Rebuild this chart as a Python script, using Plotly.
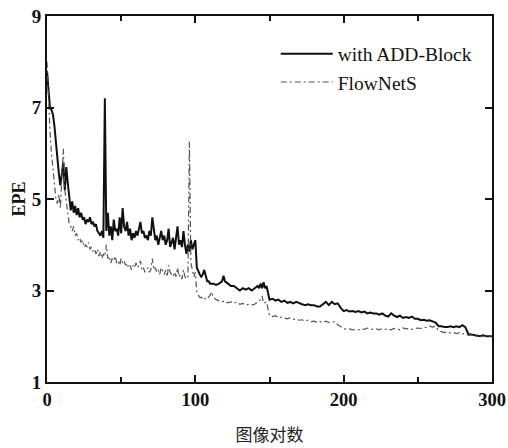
import plotly.graph_objects as go

# ---- data ----
add_x = list(range(0, 111)) + [112, 114, 116, 118, 119, 120, 122, 124, 126, 128, 130, 132, 134, 136, 138, 140,
        142, 143, 144, 145, 146, 147, 148, 149] + list(range(150, 301, 2))
add_y = [7.8, 7.3, 7.0, 6.95, 6.85, 6.6, 6.2, 5.9, 5.55, 5.3,
         5.5, 5.8, 5.2, 5.7, 5.35, 5.0, 4.75, 4.95, 4.7, 4.85,
         4.65, 4.8, 4.6, 4.7, 4.55, 4.6, 4.45, 4.55, 4.5, 4.6,
         4.45, 4.5, 4.4, 4.45, 4.3, 4.25, 4.2, 4.3, 4.15, 7.2,
         4.3, 4.7, 4.2, 4.4, 4.1, 4.55, 4.3, 4.35, 4.2, 4.6,
         4.25, 4.8, 4.4, 4.3, 4.5, 4.2, 4.35, 4.1, 4.25, 4.15,
         4.3, 4.2, 4.4, 4.5, 4.25, 4.3, 4.15, 4.2, 4.1, 4.3,
         4.2, 4.6, 4.35, 4.1, 4.2, 4.0, 4.15, 4.3, 4.1, 4.2,
         4.0, 4.1, 4.35, 3.95, 4.05, 4.15, 3.9, 4.1, 4.4, 4.0,
         4.1, 3.95, 4.3, 4.0, 3.8, 4.0, 3.85, 4.1, 3.9, 4.0,
         4.1, 3.5, 3.4, 3.35, 3.3, 3.35, 3.45, 3.3, 3.2, 3.2,
         3.15,
         3.15, 3.12, 3.15, 3.2, 3.32, 3.2, 3.15, 3.1, 3.1, 3.05, 3.0, 3.05, 3.02, 3.05, 3.0, 3.05,
         3.1, 3.05, 3.15, 3.05, 3.18, 3.05, 3.1, 2.95,
         2.8, 2.82, 2.78, 2.8, 2.75, 2.78, 2.73, 2.75, 2.72, 2.75,
         2.72, 2.7, 2.68, 2.7, 2.68, 2.68, 2.65, 2.65, 2.7, 2.75,
         2.68, 2.75, 2.7, 2.72, 2.62, 2.55, 2.57, 2.54, 2.55, 2.53,
         2.55, 2.52, 2.54, 2.5, 2.52, 2.5, 2.5, 2.47, 2.5, 2.45,
         2.43, 2.5, 2.45, 2.42, 2.45, 2.4, 2.42, 2.4, 2.43, 2.38,
         2.38, 2.35, 2.36, 2.34, 2.35, 2.33, 2.3, 2.22, 2.22, 2.2,
         2.2, 2.22, 2.2, 2.22, 2.2, 2.24, 2.2, 2.05, 2.04, 2.02,
         2.02, 2.0, 2.02, 2.0, 2.0, 2.0]

fn_x = list(range(0, 113)) + [114, 116, 118, 120, 122, 124, 126, 128, 130, 132, 134, 136, 138, 140, 142, 144,
        145, 146, 148, 149] + list(range(150, 301, 2))
fn_y = [8.0, 7.0, 6.5, 6.0, 5.6, 5.3, 5.0, 4.9, 5.1, 4.8,
        5.4, 6.1, 5.2, 5.0, 4.7, 4.45, 4.4, 4.3, 4.4, 4.2,
        4.25, 4.1, 4.15, 4.05, 4.1, 3.95, 4.0, 3.95, 4.05, 3.9,
        3.95, 3.85, 3.9, 3.8, 3.9, 3.75, 3.85, 3.7, 3.8, 3.75,
        4.0, 3.7, 3.75, 3.6, 3.7, 3.65, 3.75, 3.6, 3.65, 3.55,
        3.7, 3.6, 3.65, 3.55, 3.6, 3.5, 3.55, 3.45, 3.55, 3.5,
        3.6, 3.5, 3.55, 3.65, 3.45, 3.5, 3.4, 3.45, 3.5, 3.4,
        3.45, 3.7, 3.45, 3.5, 3.4, 3.45, 3.35, 3.5, 3.4, 3.35,
        3.45, 3.3, 3.55, 3.4, 3.35, 3.3, 3.4, 3.3, 3.5, 3.3,
        3.35, 3.25, 3.45, 3.3, 3.25, 3.3, 6.25, 3.6, 3.45, 3.3,
        3.4, 2.95, 2.9, 2.85, 2.85, 2.82, 2.85, 2.8, 2.82, 2.85,
        2.9, 2.97, 2.85,
        2.8, 2.78, 2.75, 2.78, 2.73, 2.75, 2.72, 2.75, 2.7, 2.72, 2.68, 2.7, 2.68, 2.7, 2.75, 2.8,
        2.88, 2.72, 2.75, 2.6,
        2.45, 2.43, 2.45, 2.4, 2.42, 2.4, 2.38, 2.4, 2.37, 2.38,
        2.35, 2.36, 2.33, 2.35, 2.32, 2.33, 2.3, 2.32, 2.3, 2.33,
        2.3, 2.3, 2.32, 2.25, 2.2, 2.17, 2.15, 2.16, 2.14, 2.15,
        2.14, 2.16, 2.15, 2.18, 2.16, 2.15, 2.16, 2.14, 2.17, 2.15,
        2.16, 2.14, 2.17, 2.15, 2.14, 2.18, 2.16, 2.17, 2.15, 2.17,
        2.18, 2.17, 2.2, 2.19, 2.22, 2.2, 2.22, 2.12, 2.1, 2.08,
        2.1, 2.07, 2.08, 2.06, 2.08, 2.05, 2.06, 2.02, 2.03, 2.0,
        2.01, 1.99, 2.0, 1.99, 2.0, 2.0]

series_names = ["with ADD-Block", "FlowNetS"]
x_ticks = [0, 100, 200, 300]
y_ticks = [1, 3, 5, 7, 9]
x_title = "图像对数"
y_title = "EPE"

serif = "Liberation Serif, Times New Roman, serif"

fig = go.Figure()
fig.add_trace(go.Scatter(x=add_x, y=add_y, mode="lines", name=series_names[0],
                         line=dict(color="#111111", width=2)))
fig.add_trace(go.Scatter(x=fn_x, y=fn_y, mode="lines", name=series_names[1],
                         line=dict(color="#555555", width=1.2, dash="6px,3px,2px,3px")))

fig.update_layout(
    width=508, height=448,
    margin=dict(l=47, r=15.5, t=16, b=66, autoexpand=False),
    plot_bgcolor="white", paper_bgcolor="white",
    showlegend=True,
    legend=dict(x=0.514, y=0.9495, xanchor="left", yanchor="top", itemwidth=52,
                font=dict(family=serif, size=19.5, color="#111111"),
                bgcolor="rgba(0,0,0,0)", tracegroupgap=0),
    xaxis=dict(range=[0, 300], tickvals=x_ticks, ticktext=[str(v) for v in x_ticks],
               automargin=False, ticklabeloverflow="allow",
               ticks="inside", ticklen=7, tickwidth=1.5, tickcolor="#111",
               minor=dict(tickvals=[50, 150, 250], ticks="inside", ticklen=5, tickwidth=1.5, tickcolor="#111"),
               showline=True, linecolor="#111", linewidth=1.8, mirror="ticks",
               showgrid=False, zeroline=False,
               tickfont=dict(family=serif, size=18.5, color="#111", weight="bold"),
               title=dict(text=x_title, standoff=20,
                          font=dict(family="Noto Sans CJK SC", size=17, color="#222"))),
    yaxis=dict(range=[1, 9], tickvals=y_ticks, ticktext=[str(v) for v in y_ticks],
               automargin=False, ticklabeloverflow="allow",
               ticks="inside", ticklen=7, tickwidth=1.5, tickcolor="#111",
               showline=True, linecolor="#111", linewidth=1.8, mirror="ticks",
               showgrid=False, zeroline=False,
               tickfont=dict(family=serif, size=19, color="#111", weight="bold"),
               title=dict(text=y_title, standoff=1,
                          font=dict(family=serif, size=18, color="#111", weight="bold"))),
)

# remove the page's default 8px body margin so the figure fills the window
fig.write_html("out.html", config={"displayModeBar": False},
               post_script="document.body.style.margin='0';")
